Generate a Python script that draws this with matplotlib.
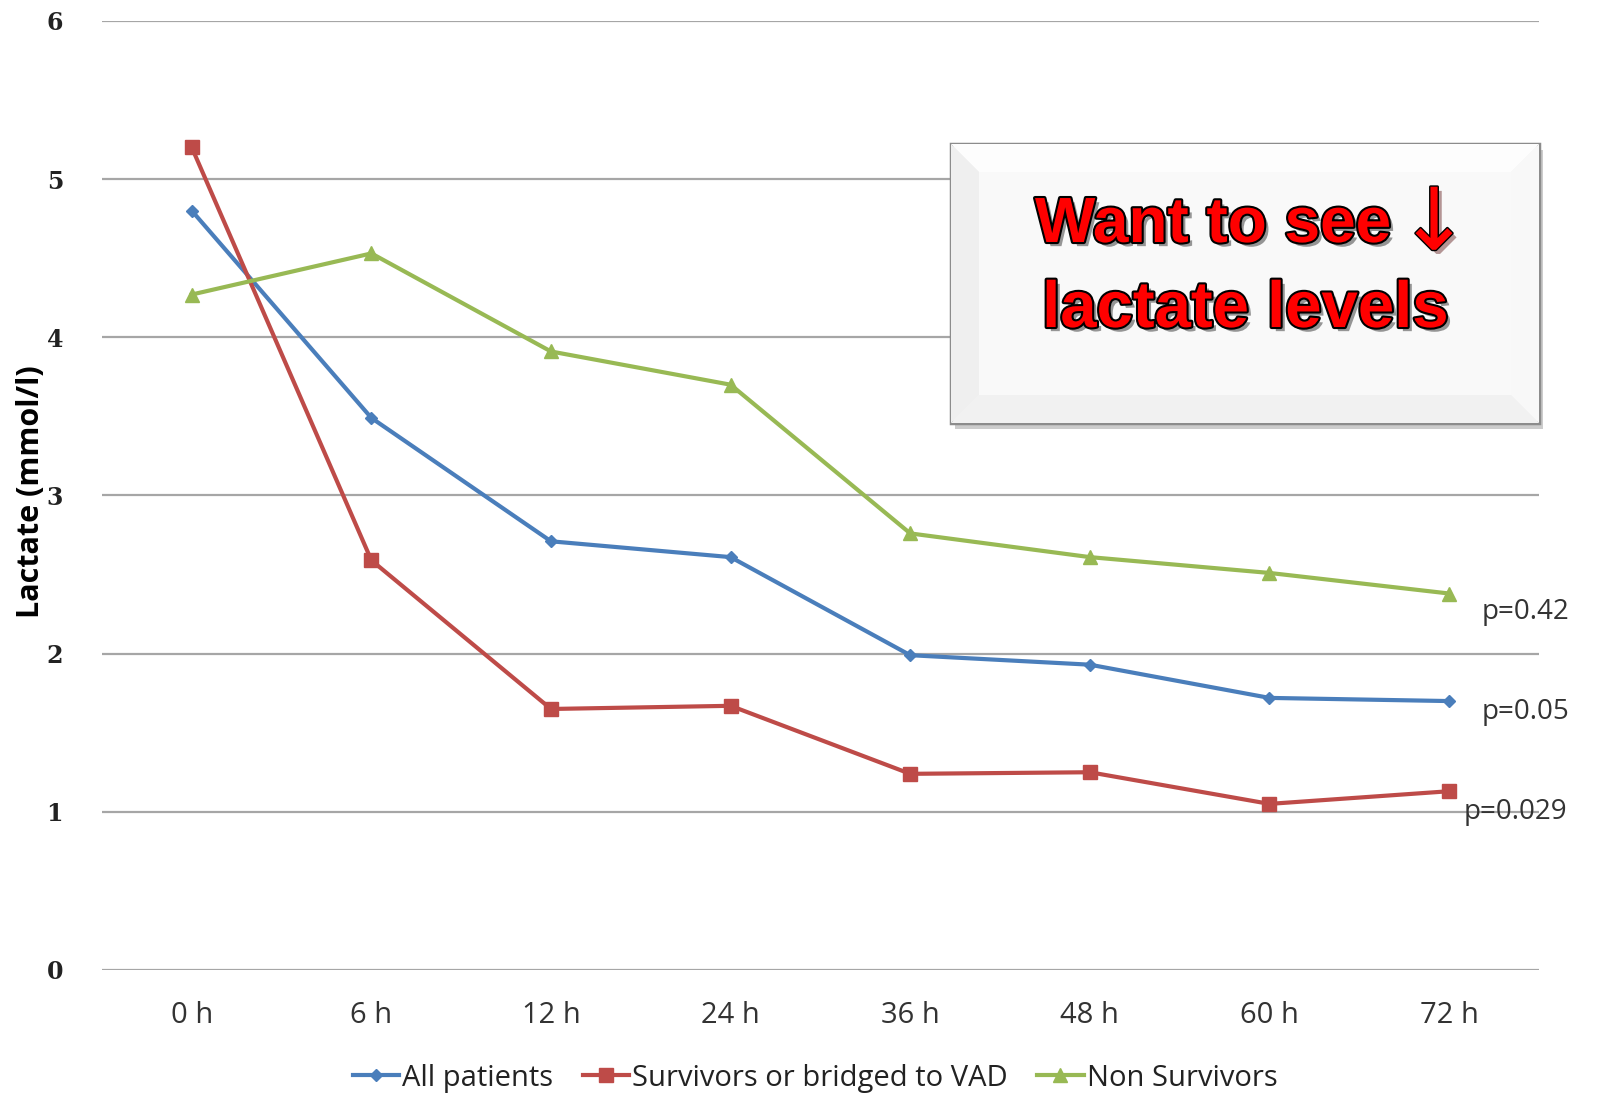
import matplotlib
matplotlib.use("Agg")
import matplotlib.pyplot as plt
import matplotlib.patheffects as pe
from matplotlib.patches import Rectangle, Polygon

# Time points and mean lactate per group
timepoints = ["0 h", "6 h", "12 h", "24 h", "36 h", "48 h", "60 h", "72 h"]
all_patients = [4.80, 3.49, 2.71, 2.61, 1.99, 1.93, 1.72, 1.70]
survivors = [5.20, 2.59, 1.65, 1.67, 1.24, 1.25, 1.05, 1.13]
non_survivors = [4.27, 4.53, 3.91, 3.70, 2.76, 2.61, 2.51, 2.38]
series_names = ["All patients", "Survivors or bridged to VAD", "Non Survivors"]
p_values = ["p=0.42", "p=0.05", "p=0.029"]
y_ticks = [0, 1, 2, 3, 4, 5, 6]

W, H = 1598, 1099
def fx(px):
    return px / W
def fy(py):
    return 1 - py / H

fig = plt.figure(figsize=(W / 100, H / 100), dpi=100)
ax = fig.add_axes([0.0638, 0.1174, 0.9630 - 0.0638, 0.981 - 0.1174])

x = list(range(len(timepoints)))
ax.set_xlim(-0.5, len(timepoints) - 0.5)
ax.set_ylim(0, 6)

for y in y_ticks:
    ax.axhline(y, color="#a6a6a6", lw=1.6, zorder=1)

blue, red, green = "#4a7ebb", "#be4b48", "#98b954"
ax.plot(x, all_patients, color=blue, lw=3, marker="D", ms=6.5, zorder=3, label=series_names[0])
ax.plot(x, survivors, color=red, lw=3, marker="s", ms=9.5, zorder=3, label=series_names[1])
ax.plot(x, non_survivors, color=green, lw=3, marker="^", ms=10, zorder=3, label=series_names[2])

for s in ax.spines.values():
    s.set_visible(False)
ax.tick_params(length=0)
ax.set_xticks(x)
ax.set_xticklabels(timepoints, fontsize=21, family="Open Sans", color="#333333")
ax.tick_params(axis="x", pad=22)
ax.set_yticks(y_ticks)
ax.set_yticklabels([str(v) for v in y_ticks], fontsize=17, family="DejaVu Serif",
                   fontweight="bold", color="#222222")
ax.tick_params(axis="y", pad=28)

fig.text(fx(31), fy(492), "Lactate (mmol/l)", fontsize=22, family="Open Sans",
         fontweight="bold", rotation=90, ha="center", va="center", color="black")

# p-values beside the last points
p_pos = [(7.18, 2.26), (7.18, 1.63), (7.08, 1.00)]
for (px, py), txt in zip(p_pos, p_values):
    ax.text(px, py, txt, fontsize=20, family="Open Sans", color="#333333",
            va="center", ha="left", clip_on=False)

leg = fig.legend(loc="center", bbox_to_anchor=(0.51, 0.019), ncol=3, frameon=False,
                 prop={"family": "Open Sans", "size": 21}, handlelength=1.6,
                 handletextpad=0.1, columnspacing=1.0)
for t in leg.get_texts():
    t.set_color("#222222")

# Callout box with bevelled frame
x0, y0, x1, y1 = 951, 144, 1539, 423
shadow = Rectangle((fx(x0 + 4), fy(y1 + 6)), fx(x1) - fx(x0), fy(y0) - fy(y1),
                   transform=fig.transFigure, facecolor="#000000", alpha=0.2,
                   edgecolor="none", zorder=4)
fig.patches.append(shadow)
outer = Rectangle((fx(x0), fy(y1)), fx(x1) - fx(x0), fy(y0) - fy(y1),
                  transform=fig.transFigure, facecolor="#f4f4f4",
                  edgecolor="#8c8c8c", lw=2.5, zorder=5)
fig.patches.append(outer)
b = 28
bevels = [
    ([(x0, y0), (x1, y0), (x1 - b, y0 + b), (x0 + b, y0 + b)], "#fdfdfd"),
    ([(x0, y0), (x0 + b, y0 + b), (x0 + b, y1 - b), (x0, y1)], "#efefef"),
    ([(x1, y0), (x1, y1), (x1 - b, y1 - b), (x1 - b, y0 + b)], "#f8f8f8"),
    ([(x0, y1), (x0 + b, y1 - b), (x1 - b, y1 - b), (x1, y1)], "#f1f1f1"),
]
for pts, col in bevels:
    poly = Polygon([(fx(a), fy(c)) for a, c in pts], closed=True,
                   transform=fig.transFigure, facecolor=col, edgecolor="none", zorder=5.5)
    fig.patches.append(poly)
inner = Rectangle((fx(x0 + b), fy(y1 - b)), fx(x1 - b) - fx(x0 + b), fy(y0 + b) - fy(y1 - b),
                  transform=fig.transFigure, facecolor="#f9f9f9", edgecolor="none", zorder=5.6)
fig.patches.append(inner)

effects = [pe.SimplePatchShadow(offset=(3, -3), shadow_rgbFace="black", alpha=0.4),
           pe.withStroke(linewidth=3, foreground="black")]
fig.text(fx(1213), fy(225), "Want to see", fontsize=46, family="Liberation Sans",
         fontweight="bold", color="#ff0000", ha="center", va="center",
         path_effects=effects, zorder=7)
fig.text(fx(1245), fy(310), "lactate levels", fontsize=47, family="Liberation Sans",
         fontweight="bold", color="#ff0000", ha="center", va="center",
         path_effects=effects, zorder=7)
fig.text(fx(1434), fy(226), "↓", fontsize=62, family="DejaVu Sans",
         color="#ff0000", ha="center", va="center",
         path_effects=[pe.SimplePatchShadow(offset=(3, -3), alpha=0.4),
                       pe.withStroke(linewidth=2, foreground="black")], zorder=7)

fig.savefig("out.png", dpi=100, facecolor="white")
